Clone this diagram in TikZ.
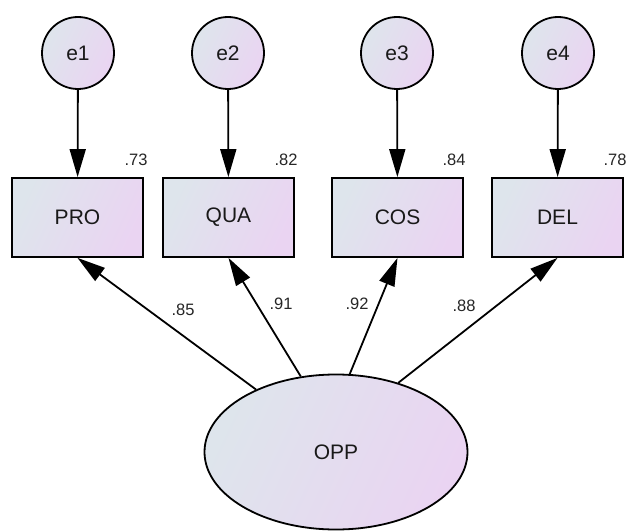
\documentclass[tikz,border=0pt]{standalone}
\usepackage{fontspec}
\setmainfont{Liberation Sans}
\usetikzlibrary{shapes.geometric,arrows.meta}
\definecolor{gA}{RGB}{222,229,236}
\definecolor{gB}{RGB}{234,212,242}
\tikzset{
  shadefill/.style={left color=gA, right color=gB, shading angle=65, draw=black, line width=1.8pt},
  nodefont/.style={font=\fontsize{21}{24}\selectfont, text=black!90},
  errc/.style={shadefill, nodefont, circle, minimum size=72pt, inner sep=0pt},
  obsbox/.style={shadefill, nodefont, rectangle, minimum width=131pt, minimum height=79pt, inner sep=0pt},
  latent/.style={shadefill, nodefont, ellipse, minimum width=263pt, minimum height=155pt, inner sep=0pt},
  lbl/.style={font=\fontsize{16.5}{18}\selectfont, text=black!85, inner sep=0pt},
  conn/.style={line width=1.8pt, -{Triangle[length=28pt, width=16pt]}}
}
\begin{document}
\begin{tikzpicture}[x=1pt,y=-1pt]
\useasboundingbox (0,0) rectangle (629,532);
\node[errc] (e1) at (78,53) {e1};
\node[errc] (e2) at (228,53) {e2};
\node[errc] (e3) at (397,53) {e3};
\node[errc] (e4) at (558,53) {e4};
\node[obsbox] (pro) at (77.5,217.5) {PRO};
\node[obsbox] (qua) at (228.5,217.5) {QUA};
\node[obsbox] (cos) at (397.5,217.5) {COS};
\node[obsbox] (del) at (557.5,217.5) {DEL};
\node[latent] (opp) at (336,452) {OPP};
\draw[conn] (e1) -- (pro);
\draw[conn] (e2) -- (qua);
\draw[conn] (e3) -- (cos);
\draw[conn] (e4) -- (del);
\draw[conn] (opp.142) -- (pro.south);
\draw[conn] (opp.115) -- (qua.south);
\draw[conn] (opp.80) -- (cos.south);
\draw[conn] (opp.48) -- (del.south);
\node[lbl] (r1) at (136,160) {.73};
\node[lbl] (r2) at (286,160) {.82};
\node[lbl] (r3) at (454,160) {.84};
\node[lbl] (r4) at (615,160) {.78};
\node[lbl] (l1) at (183,309.5) {.85};
\node[lbl] (l2) at (281,304) {.91};
\node[lbl] (l3) at (357,304) {.92};
\node[lbl] (l4) at (464,306) {.88};
\end{tikzpicture}
\end{document}
